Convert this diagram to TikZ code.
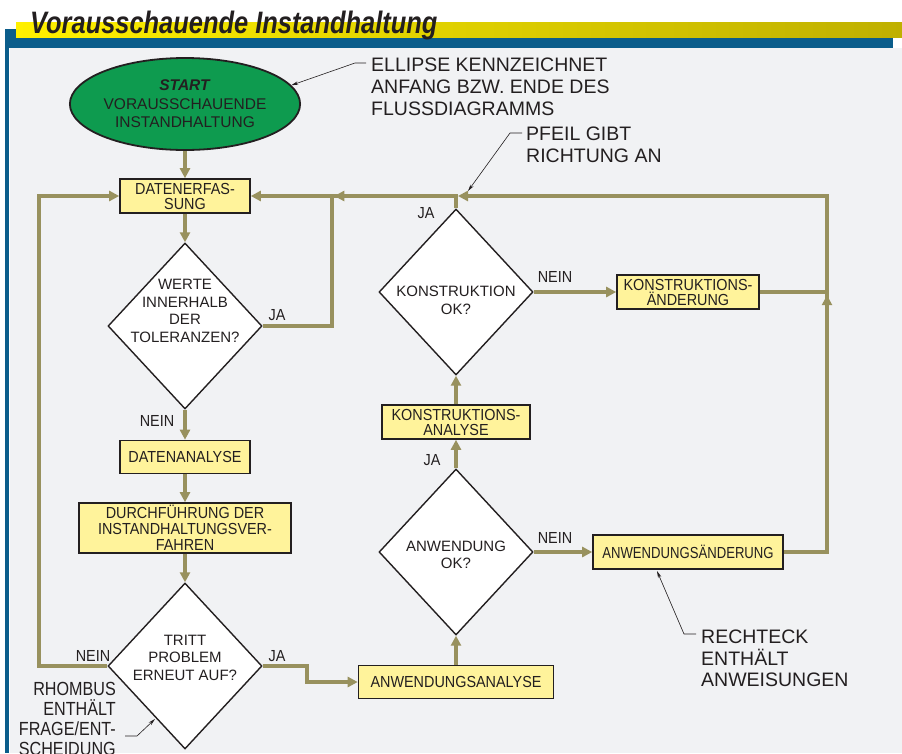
\documentclass[tikz,border=0pt]{standalone}
\usepackage{fontspec}
\setmainfont{Liberation Sans}
\newfontfamily\boxfont[FakeStretch=0.9]{Liberation Sans}
\newfontfamily\slimfont[FakeStretch=0.82]{Liberation Sans}
\newfontfamily\narrowfont[FakeStretch=0.85]{Liberation Sans}
\newfontfamily\titlefont[FakeStretch=0.82]{Liberation Sans}
\usetikzlibrary{positioning,arrows.meta,shapes.geometric,decorations.markings}
\definecolor{FDink}{HTML}{231F20}
\definecolor{FDolive}{HTML}{98915E}
\definecolor{FDyellow}{HTML}{FFF39B}
\definecolor{FDgreen}{HTML}{0E9B4F}
\definecolor{FDpanel}{HTML}{F1F2F4}
\definecolor{FDblue}{HTML}{0B5D8B}
\definecolor{FDbandA}{HTML}{FFF000}
\definecolor{FDbandB}{HTML}{BFB000}
\tikzset{
  procbox/.style={draw=FDink, line width=1.6pt, fill=FDyellow, minimum height=34pt, inner sep=0pt, align=center, font=\boxfont\fontsize{16}{15}\selectfont, text=FDink},
  decbox/.style={diamond, draw=FDink, line width=1.4pt, fill=white, minimum width=154pt, minimum height=166pt, inner sep=0pt},
  dectext/.style={align=center, font=\fontsize{15}{17.5}\selectfont, text=FDink, inner sep=0pt},
  startbox/.style={ellipse, draw=FDink, line width=1.8pt, fill=FDgreen, minimum width=230pt, minimum height=92pt, inner sep=0pt, align=center, font=\fontsize{15.5}{18.5}\selectfont, text=FDink},
  flowarr/.style={-{Triangle[length=10pt,width=10pt]}, line width=3.4pt, draw=FDolive, color=FDolive},
  flowline/.style={line width=3.4pt, draw=FDolive},
  midarr/.style={postaction={decorate}, decoration={markings, mark=at position #1 with {\arrow{Triangle[length=10pt,width=10pt]}}}},
  lbl/.style={font=\boxfont\fontsize{16}{18}\selectfont, text=FDink, inner sep=0pt},
  note/.style={align=left, font=\fontsize{19.5}{22}\selectfont, text=FDink, inner sep=0pt, anchor=north west},
  leader/.style={-{Stealth[length=7pt,width=3.5pt]}, line width=0.6pt, draw=FDink}
}
\begin{document}
\begin{tikzpicture}[x=1pt, y=-1pt]
  \useasboundingbox (0,0) rectangle (902,753);
  \fill[FDpanel] (10,48) rectangle (902,753);
  \fill[FDblue] (5,29) rectangle (893,48);
  \fill[FDblue] (5,29) rectangle (9,753);
  \shade[left color=FDbandA, right color=FDbandB] (16,22) rectangle (902,37);
  \node[anchor=base west, inner sep=0pt, text=FDink, font=\titlefont\fontsize{31}{30}\bfseries\itshape\selectfont] (title) at (30,33) {Vorausschauende Instandhaltung};

  \node[startbox] (start) at (185,104) {\textbf{\textit{START}}\\VORAUSSCHAUENDE\\INSTANDHALTUNG};
  \node[procbox, minimum width=130pt] (erf) at (185,196) {DATENERFAS-\\SUNG};
  \node[decbox] (werte) at (185,326) {};
  \node[dectext] (wertetxt) at (185,311) {WERTE\\INNERHALB\\DER\\TOLERANZEN?};
  \node[procbox, minimum width=130pt, minimum height=33pt] (danal) at (185,457) {DATENANALYSE};
  \node[procbox, minimum width=212pt, minimum height=50pt, font=\boxfont\fontsize{16}{16}\selectfont] (durch) at (185,528) {DURCHFÜHRUNG DER\\INSTANDHALTUNGSVER-\\FAHREN};
  \node[decbox] (tritt) at (185,666) {};
  \node[dectext] (tritttxt) at (185,657.5) {TRITT\\PROBLEM\\ERNEUT AUF?};
  \node[procbox, minimum width=195pt, minimum height=33pt] (anal) at (456,682) {ANWENDUNGSANALYSE};
  \node[decbox] (aok) at (456,552) {};
  \node[dectext] (aoktxt) at (456,555) {ANWENDUNG\\OK?};
  \node[procbox, minimum width=148pt] (kanal) at (456,422) {KONSTRUKTIONS-\\ANALYSE};
  \node[decbox] (kok) at (456,292) {};
  \node[dectext] (koktxt) at (456,300.5) {KONSTRUKTION\\OK?};
  \node[procbox, minimum width=142pt] (kaend) at (688,292) {KONSTRUKTIONS-\\ÄNDERUNG};
  \node[procbox, minimum width=190pt, font=\slimfont\fontsize{16}{15}\selectfont] (aaend) at (688,552) {ANWENDUNGSÄNDERUNG};

  \coordinate (jtop) at (456,196);
  \coordinate (jleft) at (332,196);
  \coordinate (wr) at (332,326);
  \coordinate (rtop) at (827,196);
  \coordinate (rmid) at (827,292);
  \coordinate (rbot) at (827,552);
  \coordinate (lbot) at (39,666);
  \coordinate (ltop) at (39,196);
  \coordinate (tj1) at (307,666);
  \coordinate (tj2) at (307,682);

  \draw[flowarr] (start) -- (erf);
  \draw[flowarr] (erf) -- (werte.north);
  \draw[flowarr] (werte.south) -- (danal);
  \draw[flowarr] (danal) -- (durch);
  \draw[flowarr] (durch) -- (tritt.north);
  \draw[flowarr] (tritt.west) -- (lbot) -- (ltop) -- (erf.west);
  \draw[flowarr] (tritt.east) -- (tj1) -- (tj2) -- (anal.west);
  \draw[flowarr] (anal) -- (aok.south);
  \draw[flowarr] (aok.north) -- (kanal);
  \draw[flowarr] (kanal) -- (kok.south);
  \draw[flowarr] (aok.east) -- (aaend.west);
  \draw[flowarr] (kok.east) -- (kaend.west);
  \draw[flowline] (werte.east) -- (wr) -- (jleft);
  \draw[flowarr, midarr=134pt] (kok.north) -- (jtop) -- (erf.east);
  \draw[flowline] (kaend.east) -- (rmid);
  \draw[flowarr, midarr=300pt, shorten >=2pt] (aaend.east) -- (rbot) -- (rtop) -- (jtop);

  \node[lbl] (l1) at (157,421) {NEIN};
  \node[lbl] (l2) at (277,315) {JA};
  \node[lbl] (l3) at (93,656) {NEIN};
  \node[lbl] (l4) at (277,656) {JA};
  \node[lbl] (l5) at (432,460) {JA};
  \node[lbl] (l6) at (555,538) {NEIN};
  \node[lbl] (l7) at (426,213) {JA};
  \node[lbl] (l8) at (555,277) {NEIN};

  \node[note] (ellnote) at (371,58) {ELLIPSE KENNZEICHNET\\ANFANG BZW. ENDE DES\\FLUSSDIAGRAMMS};
  \node[note] (pfeilnote) at (526,127) {PFEIL GIBT\\RICHTUNG AN};
  \node[note, font=\fontsize{19.5}{21.5}\selectfont] (rechtnote) at (701,630) {RECHTECK\\ENTHÄLT\\ANWEISUNGEN};
  \node[note, anchor=north east, align=right, font=\narrowfont\fontsize{19}{20}\selectfont] (rhombnote) at (116,682) {RHOMBUS\\ENTHÄLT\\FRAGE/ENT-\\SCHEIDUNG};

  \coordinate (e1) at (366,63);
  \coordinate (e2) at (355,63);
  \coordinate (p1) at (522,133);
  \coordinate (p2) at (510,133);
  \coordinate (ptip) at (468,191);
  \coordinate (r1) at (696,634);
  \coordinate (r2) at (684,634);
  \coordinate (rtip) at (657,571);
  \coordinate (h1) at (125,736);
  \coordinate (h2) at (137,736);
  \coordinate (htip) at (155,719);
  \draw[leader] (e1) -- (e2) -- (start.10);
  \draw[leader] (p1) -- (p2) -- (ptip);
  \draw[leader] (r1) -- (r2) -- (rtip);
  \draw[leader] (h1) -- (h2) -- (htip);
\end{tikzpicture}
\end{document}
